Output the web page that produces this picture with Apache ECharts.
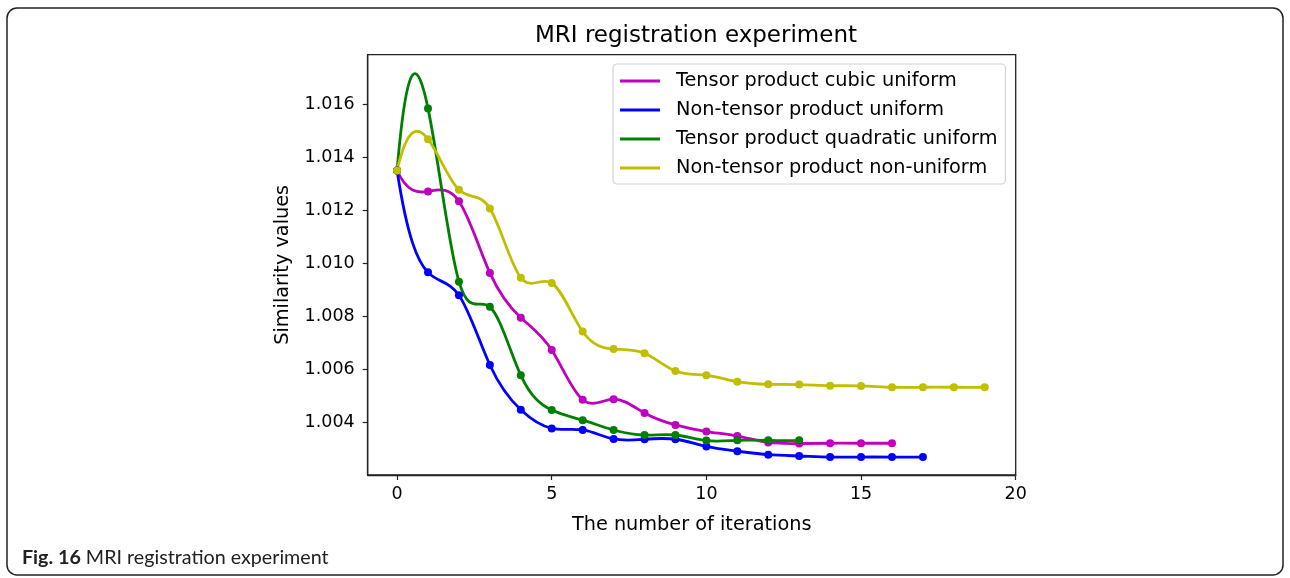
<!DOCTYPE html>
<html>
<head>
<meta charset="utf-8">
<script src="https://cdn.jsdelivr.net/npm/echarts@6/dist/echarts.min.js"></script>
<style>
html,body{margin:0;padding:0;background:#fff;}
#chart{width:1290px;height:578px;}
</style>
</head>
<body>
<div id="chart"></div>
<script>
// ---- data ----
const seriesNames = [
  'Tensor product cubic uniform',
  'Non-tensor product uniform',
  'Tensor product quadratic uniform',
  'Non-tensor product non-uniform'
];
const cubicUniform = [1.01350, 1.01271, 1.01234, 1.00964, 1.00795, 1.00673, 1.00486, 1.00488, 1.00436, 1.00391, 1.00366, 1.00349, 1.00325, 1.00321, 1.00322, 1.00322, 1.00322];
const nonTensorUniform = [1.01350, 1.00966, 1.00880, 1.00617, 1.00448, 1.00378, 1.00372, 1.00338, 1.00337, 1.00337, 1.00310, 1.00292, 1.00279, 1.00274, 1.00270, 1.00270, 1.00270, 1.00270];
const quadraticUniform = [1.01350, 1.01584, 1.00931, 1.00836, 1.00578, 1.00447, 1.00409, 1.00372, 1.00353, 1.00353, 1.00332, 1.00333, 1.00333, 1.00333];
const nonTensorNonUniform = [1.01350, 1.01468, 1.01277, 1.01207, 1.00946, 1.00926, 1.00743, 1.00677, 1.00661, 1.00594, 1.00578, 1.00554, 1.00544, 1.00543, 1.00539, 1.00538, 1.00533, 1.00533, 1.00533, 1.00533];
const xTicks = [0, 5, 10, 15, 20];
const yTicks = [1.004, 1.006, 1.008, 1.010, 1.012, 1.014, 1.016];
const colors = ['#bf00bf', '#0000ff', '#008000', '#bfbf00'];

const allData = [cubicUniform, nonTensorUniform, quadraticUniform, nonTensorNonUniform];
const toPairs = arr => arr.map((v, i) => [i, v]);

// Cubic spline (not-a-knot) tangents for drawing a smooth curve through the data points,
// rendered as Bezier segments through the axes' own coordinate mapping.
function splineSlopes(ys) {
  const n = ys.length;
  const A = Array.from({length: n}, () => new Array(n).fill(0));
  const b = new Array(n).fill(0);
  A[0][0] = 1; A[0][1] = -2; A[0][2] = 1;
  for (let i = 1; i < n - 1; i++) {
    A[i][i - 1] = 1; A[i][i] = 4; A[i][i + 1] = 1;
    b[i] = 6 * (ys[i + 1] - 2 * ys[i] + ys[i - 1]);
  }
  A[n - 1][n - 3] = 1; A[n - 1][n - 2] = -2; A[n - 1][n - 1] = 1;
  for (let c = 0; c < n; c++) {
    let p = c;
    for (let r = c + 1; r < n; r++) if (Math.abs(A[r][c]) > Math.abs(A[p][c])) p = r;
    [A[c], A[p]] = [A[p], A[c]]; [b[c], b[p]] = [b[p], b[c]];
    for (let r = c + 1; r < n; r++) {
      const f = A[r][c] / A[c][c];
      if (!f) continue;
      for (let k = c; k < n; k++) A[r][k] -= f * A[c][k];
      b[r] -= f * b[c];
    }
  }
  const M = new Array(n).fill(0);
  for (let r = n - 1; r >= 0; r--) {
    let s = b[r];
    for (let k = r + 1; k < n; k++) s -= A[r][k] * M[k];
    M[r] = s / A[r][r];
  }
  const d0 = [], d1 = [];
  for (let i = 0; i < n - 1; i++) {
    const dy = ys[i + 1] - ys[i];
    d0.push(dy - (2 * M[i] + M[i + 1]) / 6);
    d1.push(dy + (M[i] + 2 * M[i + 1]) / 6);
  }
  return {d0, d1};
}

const FONT = '"DejaVu Sans", sans-serif';
const chart = echarts.init(document.getElementById('chart'), null, {renderer: 'canvas'});

const curveSeries = allData.map((arr, k) => {
  const sl = splineSlopes(arr);
  return {
    name: seriesNames[k],
    type: 'custom',
    data: toPairs(arr),
    encode: {x: 0, y: 1},
    itemStyle: {color: colors[k]},
    z: 2,
    silent: true,
    renderItem: (params, api) => {
      const i = params.dataIndex;
      if (i >= arr.length - 1) return null;
      const p0 = api.coord([i, arr[i]]);
      const p1 = api.coord([i + 1, arr[i + 1]]);
      const c0 = api.coord([i + 1 / 3, arr[i] + sl.d0[i] / 3]);
      const c1 = api.coord([i + 2 / 3, arr[i + 1] - sl.d1[i] / 3]);
      return {
        type: 'bezierCurve',
        shape: {x1: p0[0], y1: p0[1], x2: p1[0], y2: p1[1], cpx1: c0[0], cpy1: c0[1], cpx2: c1[0], cpy2: c1[1]},
        style: {stroke: colors[k], lineWidth: 2.8, fill: null, lineCap: 'round'}
      };
    }
  };
});

const markerSeries = allData.map((arr, k) => ({
  name: seriesNames[k],
  type: 'scatter',
  data: toPairs(arr),
  symbol: 'circle',
  symbolSize: 8,
  itemStyle: {color: colors[k], opacity: 1},
  z: 3
}));

const option = {
  backgroundColor: '#fff',
  animation: false,
  title: {
    text: 'MRI registration experiment',
    left: 691,
    top: 20,
    textAlign: 'center',
    textStyle: {fontFamily: FONT, fontSize: 23, fontWeight: 'normal', color: '#000'}
  },
  grid: {
    left: 367.7, right: 274.3, top: 54.7, bottom: 103,
    show: true, borderColor: '#222', borderWidth: 1.3, backgroundColor: 'transparent'
  },
  legend: {
    orient: 'vertical',
    left: 613, top: 64,
    data: seriesNames.map((n, k) => ({name: n, itemStyle: {color: colors[k]}})),
    icon: 'rect',
    itemWidth: 40, itemHeight: 2.8,
    itemGap: 7,
    padding: [6, 8, 5, 7],
    borderColor: '#d4d4d4', borderWidth: 1.2, borderRadius: 4,
    backgroundColor: 'rgba(255,255,255,0.8)',
    textStyle: {fontFamily: FONT, fontSize: 19.3, color: '#000', lineHeight: 22, padding: [0, 0, 0, 11]}
  },
  xAxis: {
    type: 'value',
    min: -0.95, max: 20,
    name: 'The number of iterations',
    nameLocation: 'middle',
    nameGap: 40,
    nameTextStyle: {fontFamily: FONT, fontSize: 19.3, color: '#000'},
    splitLine: {show: false},
    axisLine: {show: true, onZero: false, lineStyle: {color: '#222', width: 1.3}},
    axisTick: {show: true, inside: false, length: 5, lineStyle: {color: '#222', width: 1.2}, customValues: xTicks},
    axisLabel: {fontFamily: FONT, fontSize: 17.5, color: '#000', margin: 10, customValues: xTicks, formatter: v => String(v)}
  },
  yAxis: {
    type: 'value',
    min: 1.002023, max: 1.017864,
    name: 'Similarity values',
    nameLocation: 'middle',
    nameGap: 75,
    nameTextStyle: {fontFamily: FONT, fontSize: 19.3, color: '#000'},
    splitLine: {show: false},
    axisLine: {show: true, onZero: false, lineStyle: {color: '#222', width: 1.3}},
    axisTick: {show: true, inside: false, length: 5, lineStyle: {color: '#222', width: 1.2}, customValues: yTicks},
    axisLabel: {fontFamily: FONT, fontSize: 17.5, color: '#000', margin: 13, customValues: yTicks, formatter: v => v.toFixed(3)}
  },
  series: curveSeries.concat(markerSeries),
  graphic: [
    {
      type: 'rect',
      shape: {x: 7, y: 8, width: 1276, height: 567, r: 10},
      style: {fill: 'none', stroke: '#222', lineWidth: 1.5},
      silent: true
    },
    {
      type: 'text',
      x: 22, y: 558,
      style: {
        text: '{b|Fig. 16} MRI registration experiment',
        verticalAlign: 'middle',
        font: '19.7px Lato',
        fill: '#222',
        rich: {b: {fontWeight: 'bold', fontFamily: 'Lato', fontSize: 19.7, fill: '#222'}}
      },
      silent: true
    }
  ]
};
chart.setOption(option);
</script>
</body>
</html>
